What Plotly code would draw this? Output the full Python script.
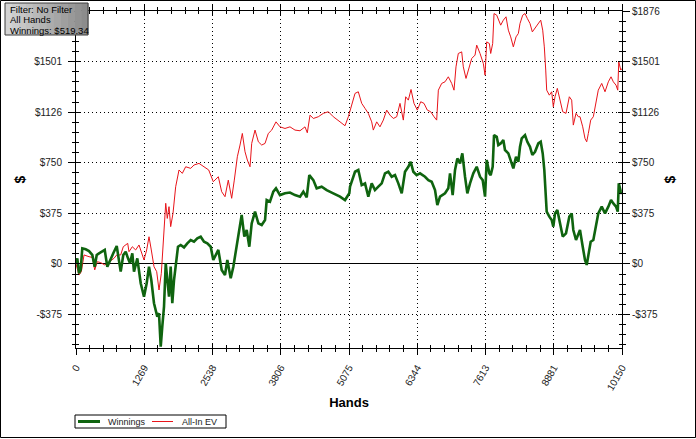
import plotly.graph_objects as go

# ---------------- data ----------------
win_hands = [0, 24, 56, 87, 117, 180, 242, 303, 348, 385, 428, 489, 534, 582, 645, 693, 757, 799, 831, 879,
             924, 967, 1004, 1047, 1078, 1140, 1171, 1203, 1264, 1314, 1357, 1400, 1450, 1511, 1543, 1575, 1604, 1636, 1668, 1697,
             1729, 1760, 1790, 1822, 1853, 1896, 1946, 2008, 2069, 2132, 2194, 2255, 2318, 2380, 2441, 2504, 2552,
             2646, 2708, 2770, 2813, 2876, 2925, 2987, 3036, 3080, 3129, 3173, 3222, 3266, 3328, 3390, 3452, 3514, 3545, 3606, 3668,
             3718, 3792, 3885, 3978, 4071, 4164, 4226, 4289, 4337, 4412, 4474, 4567, 4660, 4783, 4908, 5001, 5081,
             5094, 5187, 5248, 5311, 5373, 5434, 5497, 5558, 5620, 5683, 5744, 5806, 5869, 5930, 5992, 6055, 6116, 6178, 6222, 6271,
             6333, 6395, 6488, 6550, 6612, 6674, 6717, 6767, 6860, 6921, 6953, 7002, 7046, 7089, 7139, 7182, 7232, 7275, 7325, 7386,
             7449, 7511, 7560, 7604, 7635, 7684,
             7709, 7746, 7771, 7821, 7851, 7895, 7944, 7975, 8037, 8100, 8130, 8180, 8223, 8254, 8286, 8347, 8390, 8440, 8483, 8533,
             8594, 8639, 8676, 8706, 8732, 8750, 8799, 8843, 8873, 8905, 8948, 8998, 9048, 9109, 9171, 9215, 9245, 9295, 9338, 9369,
             9420, 9462, 9494, 9524, 9568, 9617, 9667, 9709, 9773, 9834, 9896, 9946, 9989, 10039, 10071, 10090, 10127, 10150]
winnings = [0, 42, -69, -44, 116, 109, 96, 67, -20, 67, 79, 96, 104, -20, 42, 79, 133, 30, -57, 67,
            91, 42, 5, 79, -57, 42, -69, -143, -242, -143, -20, -119, -291, -390, -365, -613, -464, -316, 5, -119,
            -242, -20, -291, -119, -20, 128, 141, 123, 153, 178, 165, 190, 202, 165, 153, 128, 30,
            104, -44, -82, 30, -106, -20, 128, 277, 363, 203, 252, 128, 301, 388, 301, 289, 326, 474, 462, 536,
            561, 511, 524, 530, 511, 499, 536, 494, 659, 622, 561, 573, 548, 524, 499, 474, 524,
            573, 684, 697, 585, 598, 499, 598, 548, 573, 598, 672, 684, 647, 659, 598, 524, 684, 721, 758, 684,
            659, 672, 647, 622, 610, 548, 437, 499, 524, 561, 672, 511, 697, 783, 746, 820, 647, 524, 598, 672,
            721, 647, 622, 499, 771, 672,
            659, 721, 956, 943, 882, 894, 919, 845, 820, 746, 709, 795, 758, 869, 931, 956, 906, 869, 808, 832,
            894, 906, 820, 697, 524, 388, 351, 326, 277, 375, 400, 301, 203, 227, 351, 375, 252, 178, 227, 252,
            128, 30, -7, 54, 165, 178, 301, 375, 425, 375, 425, 474, 449, 425, 388, 598, 536, 519]

ev_hands = [0, 56, 99, 149, 242, 303, 348, 396, 459, 534, 582, 645, 706, 757, 831, 879, 961, 985, 1047, 1109,
            1171, 1233, 1264, 1314, 1357, 1400, 1450, 1500, 1543, 1586, 1623, 1668, 1697, 1729, 1760, 1803, 1853, 1915, 1976, 2039,
            2132, 2194, 2287, 2380, 2467, 2552,
            2646, 2708, 2770, 2831, 2894, 2943, 2999, 3049, 3092, 3142, 3185, 3235, 3266, 3328, 3390, 3452, 3514, 3575, 3638, 3718,
            3792, 3885, 3978, 4071, 4164, 4257, 4300, 4350, 4412, 4505, 4598, 4691, 4783, 4908, 5001,
            5063, 5125, 5187, 5248, 5311, 5373, 5434, 5497, 5527, 5590, 5651, 5713, 5776, 5837, 5899, 5962, 6023, 6085, 6129, 6178,
            6228, 6283, 6345, 6408, 6469, 6531, 6594, 6655, 6705, 6736, 6798, 6860, 6921, 6984, 7027, 7064, 7107, 7170, 7200, 7250,
            7293, 7356, 7418, 7449, 7511, 7572, 7604, 7635, 7684,
            7709, 7746, 7771, 7821, 7851, 7895, 7944, 7994, 8037, 8081, 8130, 8180, 8223, 8254, 8304, 8347, 8390, 8440, 8483, 8533,
            8594, 8639, 8676, 8706, 8732, 8750, 8799, 8843, 8873, 8905, 8948, 8998, 9048, 9109, 9171, 9215, 9245, 9295, 9338, 9369,
            9420, 9462, 9494, 9524, 9568, 9617, 9667, 9709, 9773, 9834, 9896, 9946, 9989, 10039, 10071, 10090, 10127, 10150]
allin_ev = [0, -82, -57, 67, 54, 49, -44, 17, 10, -7, 5, 25, 42, 67, 67, 128, 153, 91, 128, 104,
            141, 67, 30, 104, 202, 104, -20, -57, -193, -69, 202, 450, 338, 425, 277, 375, 573, 697, 672, 721,
            709, 734, 746, 721, 697, 610,
            647, 536, 499, 622, 487, 622, 795, 882, 968, 832, 771, 721, 894, 993, 906, 882, 894, 968, 993, 1054,
            1017, 1005, 1017, 993, 988, 1017, 973, 1104, 1079, 1092, 1117, 1129, 1092, 1054, 1025,
            1092, 1178, 1265, 1277, 1191, 1154, 1117, 1054, 993, 1054, 1017, 1067, 1141, 1104, 1079, 1092, 1191, 1067, 1240, 1215,
            1294, 1191, 1141, 1203, 1191, 1141, 1129, 1092, 1067, 1289, 1339, 1351, 1388, 1339, 1289, 1462, 1561, 1573, 1462, 1376,
            1438, 1524, 1549, 1623, 1561, 1487, 1400, 1647, 1635,
            1561, 1635, 1857, 1845, 1808, 1771, 1808, 1833, 1734, 1684, 1610, 1684, 1709, 1783, 1845, 1857, 1821, 1783, 1721, 1747,
            1783, 1808, 1734, 1610, 1438, 1289, 1252, 1277, 1166, 1240, 1302, 1215, 1129, 1117, 1240, 1215, 1030, 1117, 1092, 1092,
            1017, 931, 906, 968, 1067, 1092, 1215, 1289, 1339, 1277, 1351, 1388, 1351, 1326, 1289, 1499, 1438, 1450]

x_ticks = [0, 1268.75, 2537.5, 3806.25, 5075, 6343.75, 7612.5, 8881.25, 10150]
x_labels = ["0", "1269", "2538", "3806", "5075", "6344", "7613", "8881", "10150"]
y_ticks = [-375.2, 0, 375.2, 750.4, 1125.6, 1500.8, 1876]
y_labels = ["-$375", "$0", "$375", "$750", "$1126", "$1501", "$1876"]
series_names = ["Winnings", "All-In EV"]
series_colors = ["#0f640f", "#e8141a"]
info_lines = ["Filter: No Filter", "All Hands", "Winnings: $519.34"]

# ---------------- figure ----------------
W, H = 696, 439
L, R, T, B = 76, 74, 11, 91
pw, ph = W - L - R, H - T - B
X_RANGE = [0, 10150]
Y_RANGE = [-623, 1876]
FONT = "Liberation Sans, Arial, sans-serif"


def px(x):
    return (x - L) / pw


def py(y):
    return (H - B - y) / ph


# the left axis label at the very top is hidden behind the info box in the reference
left_labels = y_labels[:-1] + [""]

fig = go.Figure()
fig.add_trace(go.Scatter(x=ev_hands, y=allin_ev, mode="lines", name=series_names[1],
                         line=dict(color=series_colors[1], width=1), showlegend=False))
fig.add_trace(go.Scatter(x=win_hands, y=winnings, mode="lines", name=series_names[0],
                         line=dict(color=series_colors[0], width=2.6), showlegend=False))
# invisible helpers so that the extra axes get drawn
fig.add_trace(go.Scatter(x=[0], y=[0], xaxis="x", yaxis="y2", mode="markers",
                         marker=dict(opacity=0), showlegend=False, hoverinfo="skip"))
fig.add_trace(go.Scatter(x=[0], y=[0], xaxis="x2", yaxis="y3", mode="markers",
                         marker=dict(opacity=0), showlegend=False, hoverinfo="skip"))

grid = dict(showgrid=True, gridcolor="black", gridwidth=1, griddash="1px,3px")

fig.update_layout(
    width=W, height=H,
    margin=dict(l=L, r=R, t=T, b=B, autoexpand=False),
    paper_bgcolor="white", plot_bgcolor="white",
    font=dict(family=FONT, size=10, color="#111"),
    showlegend=False,
    xaxis=dict(range=X_RANGE, tickmode="array", tickvals=x_ticks, ticktext=x_labels,
               tickangle=-60, ticks="outside", ticklen=6, tickcolor="black", ticklabelstandoff=3,
               showline=True, linecolor="black", linewidth=1, mirror="ticks",
               zeroline=False, **grid,
               minor=dict(ticks="outside", ticklen=3, tickcolor="black", tickmode="linear",
                          tick0=0, dtick=253.75, showgrid=False),
               tickfont=dict(size=10, color="#222"),
               title=dict(text="<b>Hands</b>", font=dict(size=13, color="black"), standoff=6)),
    xaxis2=dict(range=X_RANGE, overlaying="x", anchor="y3", side="bottom",
                tickmode="array", tickvals=x_ticks, ticks="inside", ticklen=4, tickcolor="black",
                mirror="ticks", showline=False, showgrid=False, zeroline=False, showticklabels=False,
                minor=dict(ticks="inside", ticklen=3, tickcolor="black", tickmode="linear",
                           tick0=0, dtick=253.75, showgrid=False)),
    yaxis=dict(range=Y_RANGE, tickmode="array", tickvals=y_ticks, ticktext=left_labels,
               ticks="outside", ticklen=7, tickcolor="black", ticklabelstandoff=4,
               showline=True, linecolor="black", linewidth=1,
               zeroline=True, zerolinecolor="black", zerolinewidth=1, **grid,
               minor=dict(ticks="outside", ticklen=3, tickcolor="black", tickmode="linear",
                          tick0=0, dtick=75.04, showgrid=False),
               tickfont=dict(size=10, color="#222"),
               title=dict(text="<b>$</b>", font=dict(size=14, color="black"), standoff=5)),
    yaxis2=dict(range=Y_RANGE, overlaying="y", side="right", anchor="x",
                tickmode="array", tickvals=y_ticks, ticktext=y_labels,
                ticks="outside", ticklen=7, tickcolor="black", ticklabelstandoff=0,
                showline=True, linecolor="black", linewidth=1,
                showgrid=False, zeroline=False,
                minor=dict(ticks="outside", ticklen=3, tickcolor="black", tickmode="linear",
                           tick0=0, dtick=75.04, showgrid=False),
                tickfont=dict(size=10, color="#222"),
                title=dict(text="<b>$</b>", font=dict(size=14, color="black"), standoff=5)),
    yaxis3=dict(range=Y_RANGE, overlaying="y", side="left", anchor="x2",
                tickmode="array", tickvals=y_ticks, ticks="inside", ticklen=4, tickcolor="black",
                mirror="ticks", showline=False, showgrid=False, zeroline=False, showticklabels=False,
                minor=dict(ticks="inside", ticklen=3, tickcolor="black", tickmode="linear",
                           tick0=0, dtick=75.04, showgrid=False)),
)

shapes = []
# ---- info box (gray gradient, left light -> right dark) ----
box_x0, box_x1, box_y0, box_y1 = 5, 88, 3, 35
n_strips = 12
for i in range(n_strips):
    g = int(212 - (212 - 140) * i / (n_strips - 1))
    sx0 = box_x0 + (box_x1 - box_x0) * i / n_strips
    sx1 = box_x0 + (box_x1 - box_x0) * (i + 1) / n_strips
    shapes.append(dict(type="rect", xref="paper", yref="paper",
                       x0=px(sx0), x1=px(sx1 + 0.5), y0=py(box_y1), y1=py(box_y0),
                       line=dict(width=0), fillcolor=f"rgb({g},{g},{g})", layer="above"))
shapes.append(dict(type="rect", xref="paper", yref="paper",
                   x0=px(box_x0), x1=px(box_x1), y0=py(box_y1), y1=py(box_y0),
                   line=dict(color="#3c3c3c", width=1), fillcolor="rgba(0,0,0,0)", layer="above"))

# ---- legend box ----
leg_x0, leg_x1, leg_y0, leg_y1 = 75, 226, 415, 428
leg_mid = (leg_y0 + leg_y1) / 2
shapes.append(dict(type="rect", xref="paper", yref="paper",
                   x0=px(leg_x0), x1=px(leg_x1), y0=py(leg_y1), y1=py(leg_y0),
                   line=dict(color="black", width=1), fillcolor="white", layer="above"))
shapes.append(dict(type="line", xref="paper", yref="paper",
                   x0=px(78), x1=px(100), y0=py(leg_mid), y1=py(leg_mid),
                   line=dict(color=series_colors[0], width=3), layer="above"))
shapes.append(dict(type="line", xref="paper", yref="paper",
                   x0=px(152), x1=px(173), y0=py(leg_mid), y1=py(leg_mid),
                   line=dict(color=series_colors[1], width=1), layer="above"))

# ---- outer frame ----
shapes.append(dict(type="rect", xref="paper", yref="paper",
                   x0=px(0.5), x1=px(W - 0.5), y0=py(H - 1.5), y1=py(0.5),
                   line=dict(color="black", width=1), fillcolor="rgba(0,0,0,0)", layer="above"))
fig.update_layout(shapes=shapes)

for i, line in enumerate(info_lines):
    fig.add_annotation(xref="paper", yref="paper", x=px(8), y=py(9.5 + 10.3 * i),
                       xanchor="left", yanchor="middle", text=line, showarrow=False,
                       font=dict(size=9.5, color="black", family=FONT))

fig.add_annotation(xref="paper", yref="paper", x=px(106), y=py(leg_mid), xanchor="left", yanchor="middle",
                   text=series_names[0], showarrow=False, font=dict(size=9, color="#222", family=FONT))
fig.add_annotation(xref="paper", yref="paper", x=px(180), y=py(leg_mid), xanchor="left", yanchor="middle",
                   text=series_names[1], showarrow=False, font=dict(size=9, color="#222", family=FONT))

fig.write_html("out.html", config={"displayModeBar": False},
               post_script="document.body.style.margin='0';")
